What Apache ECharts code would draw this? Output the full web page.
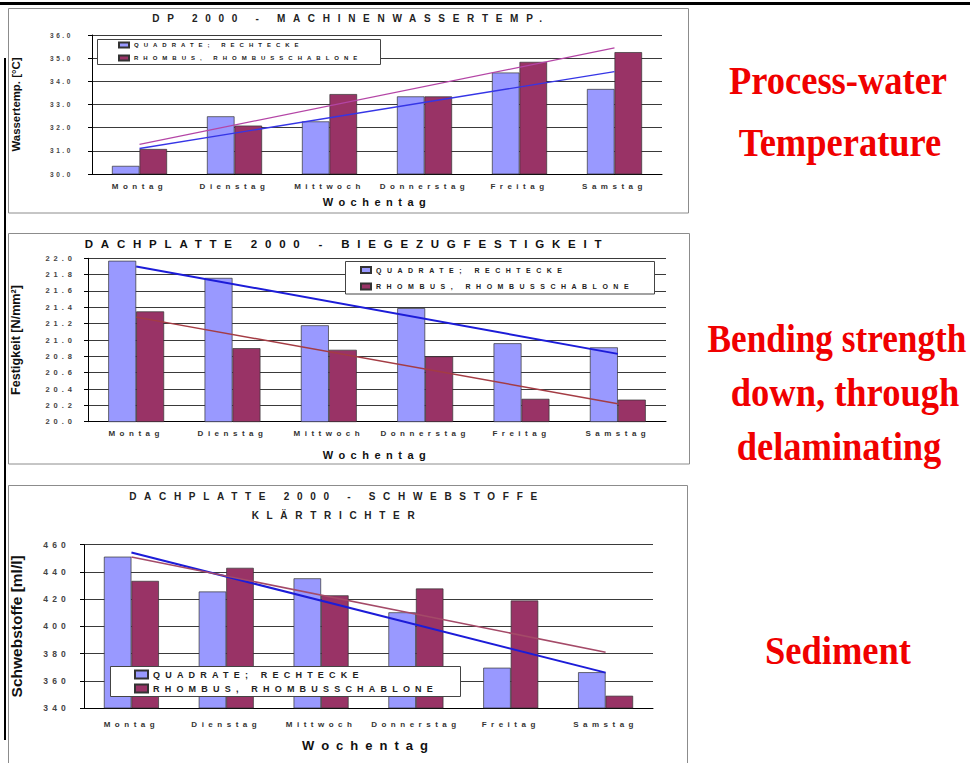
<!DOCTYPE html>
<html><head><meta charset="utf-8">
<script src="https://cdn.jsdelivr.net/npm/echarts@6/dist/echarts.min.js"></script>
<style>
html,body{margin:0;padding:0;background:#fff;overflow:hidden;}
#c{width:970px;height:763px;}
</style>
</head><body><div id="c"></div>
<script>
// ---------- DATA ----------
const categories = ['Montag', 'Dienstag', 'Mittwoch', 'Donnerstag', 'Freitag', 'Samstag'];
const seriesNames = ['QUADRATE; RECHTECKE', 'RHOMBUS, RHOMBUSSCHABLONE'];

const tempQuadrate = [30.35, 32.49, 32.27, 33.35, 34.38, 33.67];
const tempRhombus  = [31.08, 32.09, 33.45, 33.35, 34.84, 35.26];
const tempTrendQuadrate = [31.10, null, null, null, null, 34.42];
const tempTrendRhombus  = [31.28, null, null, null, null, 35.44];
const tempTicks = ['30.0', '31.0', '32.0', '33.0', '34.0', '35.0', '36.0'];

const festQuadrate = [21.97, 21.76, 21.18, 21.39, 20.96, 20.91];
const festRhombus  = [21.35, 20.90, 20.88, 20.80, 20.28, 20.27];
const festTrendQuadrate = [21.90, null, null, null, null, 20.83];
const festTrendRhombus  = [21.28, null, null, null, null, 20.22];
const festTicks = ['20.0', '20.2', '20.4', '20.6', '20.8', '21.0', '21.2', '21.4', '21.6', '21.8', '22.0'];

const sedQuadrate = [451.2, 425.6, 435.3, 410.3, 369.6, 366.3];
const sedRhombus  = [433.4, 443.0, 422.8, 427.8, 419.0, 349.0];
const sedTrendQuadrate = [454.2, null, null, null, null, 366.0];
const sedTrendRhombus  = [451.0, null, null, null, null, 381.0];
const sedTicks = ['340', '360', '380', '400', '420', '440', '460'];

const titles = ['DP 2000 - MACHINENWASSERTEMP.', 'DACHPLATTE 2000 - BIEGEZUGFESTIGKEIT', 'DACHPLATTE 2000 - SCHWEBSTOFFE', 'KLÄRTRICHTER'];
const yNames = ['Wassertemp. [°C]', 'Festigkeit [N/mm²]', 'Schwebstoffe [ml/l]'];
const xName = 'Wochentag';
const notes = ['Process-water', 'Temperature', 'Bending strength', 'down, through', 'delaminating', 'Sediment'];

// ---------- STYLE ----------
const FONT = 'Liberation Sans';
const COL_Q = '#9999ff', COL_R = '#993366';
// letter spacing by font size (emulates the spaced-out lettering of the original)
const spacing = [[6, 5], [6.5, 2.6], [7, 5.5], [7.5, 4], [8, 4.5], [8.5, 4.2], [9, 5.2], [10, 7.7], [11, 5.5], [11.5, 7.8], [13, 7]];
function applySpacing() {
  document.querySelectorAll('#c svg text').forEach(t => {
    const fs = parseFloat(getComputedStyle(t).fontSize);
    const hit = spacing.find(([s]) => Math.abs(s - fs) < 0.01);
    if (hit) t.style.letterSpacing = hit[1] + 'px';
  });
}

function tickFmt(ticks) {
  return v => { const t = ticks.find(x => Math.abs(parseFloat(x) - v) < 1e-6); return t !== undefined ? t : String(v); };
}

function xAxis(gi, labelMargin, nameGap, nameSize) {
  return {
    type: 'category', gridIndex: gi, data: categories,
    axisLine: { lineStyle: { color: '#000', width: 1 } },
    axisTick: { length: 4, lineStyle: { color: '#000' } },
    axisLabel: { interval: 0, fontSize: 8, fontWeight: 'bold', color: '#333', fontFamily: FONT, margin: labelMargin },
    name: xName, nameLocation: 'middle', nameGap: nameGap,
    nameTextStyle: { fontSize: nameSize, fontWeight: 'bold', color: '#111', fontFamily: FONT },
    splitLine: { show: false }
  };
}
function yAxis(gi, min, max, interval, ticks, labelSize, labelMargin, name, nameGap, nameSize) {
  return {
    type: 'value', gridIndex: gi, min: min, max: max, interval: interval,
    axisLine: { show: true, lineStyle: { color: '#000', width: 1 } },
    axisTick: { show: true, length: 4, lineStyle: { color: '#000' } },
    axisLabel: { formatter: tickFmt(ticks), fontSize: labelSize, fontWeight: 'bold', color: '#444', fontFamily: FONT, margin: labelMargin },
    splitLine: { show: true, lineStyle: { color: '#3a3a3a', width: 1 } },
    name: name, nameLocation: 'middle', nameGap: nameGap,
    nameTextStyle: { fontSize: nameSize, fontWeight: 'bold', color: '#111', fontFamily: FONT }
  };
}
function bars(gi, q, r) {
  const common = { type: 'bar', xAxisIndex: gi, yAxisIndex: gi, barGap: '0%', barCategoryGap: '42%', z: 2, silent: true };
  return [
    Object.assign({ name: seriesNames[0], data: q, itemStyle: { color: COL_Q, borderColor: '#333', borderWidth: 0.7 } }, common),
    Object.assign({ name: seriesNames[1], data: r, itemStyle: { color: COL_R, borderColor: '#333', borderWidth: 0.7 } }, common)
  ];
}
function trend(gi, name, data, color, width) {
  return { type: 'line', name: name, xAxisIndex: gi, yAxisIndex: gi, data: data, connectNulls: true,
    symbol: 'none', silent: true, z: 3, lineStyle: { color: color, width: width } };
}
function legend(left, top, iw, ih, gap, size) {
  return { data: seriesNames, orient: 'vertical', left: left, top: top, itemWidth: iw, itemHeight: ih, itemGap: gap,
    padding: 0, icon: 'rect', selectedMode: false, z: 6,
    textStyle: { fontSize: size, fontWeight: 'bold', color: '#222', fontFamily: FONT } };
}
function rect(x, y, w, h, fill, stroke, z) {
  return { type: 'rect', z: z, silent: true, shape: { x: x, y: y, width: w, height: h },
    style: { fill: fill, stroke: stroke || null, lineWidth: stroke ? 1 : 0 } };
}
function txt(x, y, text, size, color, family, z, scaleX) {
  return { type: 'text', x: x, y: y, z: z, silent: true, scaleX: scaleX || 1,
    style: { text: text, fontSize: size, fontWeight: 'bold', fontFamily: family, fill: color, textAlign: 'center', textVerticalAlign: 'middle' } };
}

const RED = '#f00000', SERIF = 'Liberation Serif';
const option = {
  animation: false,
  backgroundColor: '#fff',
  grid: [
    { left: 92, top: 35, width: 570, height: 139 },
    { left: 88, top: 258.3, width: 578, height: 163.4 },
    { left: 83, top: 544.7, width: 570, height: 163.3 }
  ],
  xAxis: [xAxis(0, 8, 22.5, 11), xAxis(1, 8, 28, 11), xAxis(2, 12, 30.5, 13)],
  yAxis: [
    yAxis(0, 30, 36, 1, tempTicks, 6.5, 19, yNames[0], 71, 11.4),
    yAxis(1, 20, 22, 0.2, festTicks, 7.5, 12, yNames[1], 66, 12.6),
    yAxis(2, 340, 460, 20, sedTicks, 8.5, 14, yNames[2], 60, 15.5)
  ],
  legend: [
    legend(118, 41.5, 10, 5, 6, 6),
    legend(360, 266, 10, 6, 8.5, 7),
    legend(134, 669.5, 13, 8, 4, 9)
  ],
  series: [].concat(
    bars(0, tempQuadrate, tempRhombus),
    [trend(0, 'trendTempQ', tempTrendQuadrate, '#3535e6', 1.4), trend(0, 'trendTempR', tempTrendRhombus, '#b445a6', 1.3)],
    bars(1, festQuadrate, festRhombus),
    [trend(1, 'trendFestQ', festTrendQuadrate, '#1c1cd8', 2), trend(1, 'trendFestR', festTrendRhombus, '#a43c44', 1.5)],
    bars(2, sedQuadrate, sedRhombus),
    [trend(2, 'trendSedQ', sedTrendQuadrate, '#1c1cd8', 2), trend(2, 'trendSedR', sedTrendRhombus, '#a44a68', 1.6)]
  ),
  graphic: [
    rect(8.5, 8.5, 680, 204.5, '#fff', '#8c8c8c', -10),
    rect(8.5, 233.5, 681, 230.5, '#fff', '#8c8c8c', -10),
    rect(8.5, 485.5, 679, 280, '#fff', '#8c8c8c', -10),
    rect(0, 2, 970, 3, '#000', null, 10),
    rect(4, 58, 2, 682, '#000', null, 10),
    rect(97.5, 39.5, 283, 25, '#fff', '#444', 5),
    rect(345.5, 261.5, 309, 32.5, '#fff', '#444', 5),
    rect(110.5, 666.5, 350, 30, '#fff', '#444', 5),
    txt(351, 18, titles[0], 10, '#222', FONT, 10),
    txt(347, 244, titles[1], 11.5, '#111', FONT, 10),
    txt(337, 496, titles[2], 10, '#222', FONT, 10),
    txt(337, 515, titles[3], 10, '#222', FONT, 10),
    txt(838, 80, notes[0], 41, RED, SERIF, 10, 0.89),
    txt(840, 142, notes[1], 41, RED, SERIF, 10, 0.89),
    txt(837, 338, notes[2], 41, RED, SERIF, 10, 0.86),
    txt(845, 392, notes[3], 41, RED, SERIF, 10, 0.89),
    txt(839, 446, notes[4], 41, RED, SERIF, 10, 0.89),
    txt(838, 650, notes[5], 41, RED, SERIF, 10, 0.89)
  ]
};

const chart = echarts.init(document.getElementById('c'), null, { renderer: 'svg', width: 970, height: 763 });
chart.on('finished', applySpacing);
chart.setOption(option);
applySpacing();
requestAnimationFrame(applySpacing);
setTimeout(applySpacing, 50);
</script>
</body></html>
